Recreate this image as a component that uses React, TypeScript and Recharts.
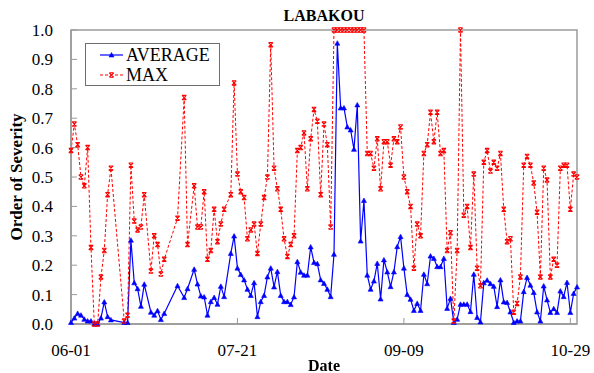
import React from "react"
import { LineChart, Line, XAxis, YAxis, ReferenceArea } from "recharts"

// day index counted from 06-01 (some days have no reading)
const days = [
  0, 1, 2, 3, 4, 5, 6, 7, 8, 9, 10, 11, 12,
  16, 17, 18, 19, 20, 21, 22,
  24, 25, 26, 27, 28,
  32, 34, 35,
  37, 38, 39, 40, 41, 42, 43, 44, 45, 46,
  48, 49, 50, 51, 52, 53, 54, 55, 56, 57, 58, 59, 60, 61, 62, 63, 64, 65, 66, 67, 68, 69, 70, 71, 72, 73, 74, 75, 76, 77, 78, 79,
  80, 81, 82, 83, 84, 85, 86, 87, 88, 89, 90, 91, 92, 93, 94, 95, 96, 97, 98, 99, 100,
  101, 102, 103, 104, 105, 106, 107, 108, 109, 110, 111, 112, 113, 114, 115, 116, 117, 118, 119, 120, 121, 122, 123, 124, 125, 126, 127,
  128, 129, 130, 131, 132, 133, 134, 135, 136, 137, 138, 139, 140, 141, 142, 143, 144, 145, 146, 147, 148, 149, 150, 151, 152,
]

const averageValues = [
  0.005, 0.02, 0.036, 0.03, 0.016, 0.01, 0.01, 0, 0, 0.02, 0.075, 0.025, 0.014,
  0.005, 0.005, 0.285, 0.14, 0.12, 0.06, 0.135,
  0.04, 0.03, 0.045, 0.015, 0.036,
  0.13, 0.09, 0.12,
  0.186, 0.136, 0.095, 0.092, 0.03, 0.076, 0.09, 0.067, 0.128, 0.093,
  0.24, 0.299, 0.19, 0.168, 0.15, 0.118, 0.097, 0.14, 0.025, 0.076, 0.097, 0.16, 0.19, 0.126, 0.178, 0.097, 0.076, 0.076, 0.066, 0.092, 0.212, 0.176, 0.166, 0.166, 0.262, 0.209, 0.205, 0.15, 0.138, 0.118, 0.093, 0.237,
  0.955, 0.735, 0.735, 0.67, 0.66, 0.594, 0.745, 0.282, 0.42, 0.166, 0.118, 0.146, 0.206, 0.085, 0.218, 0.177, 0.127, 0.177, 0.263, 0.297, 0.19,
  0.1, 0.084, 0.046, 0.07, 0.046, 0.169, 0.137, 0.231, 0.223, 0.195, 0.195, 0.223, 0.053, 0.087, 0.005, 0.016, 0.067, 0.067, 0.067, 0.042, 0.169, 0.022, 0.007, 0.14, 0.149, 0.137, 0.128,
  0.059, 0.15, 0.075, 0.073, 0.041, 0.005, 0.01, 0.01, 0.11, 0.158, 0.132, 0.107, 0.041, 0.01, 0.129, 0.082, 0.039, 0.052, 0.039, 0.112, 0.093, 0.141, 0.039, 0.104, 0.126,
]

const maxValues = [
  0.59, 0.68, 0.61, 0.5, 0.47, 0.6, 0.26, 0, 0, 0.16, 0.25, 0.44, 0.53,
  0.01, 0.03, 0.54, 0.35, 0.32, 0.33, 0.44,
  0.18, 0.3, 0.27, 0.17, 0.22,
  0.36, 0.77, 0.27,
  0.47, 0.33, 0.33, 0.45, 0.22, 0.25, 0.39, 0.28, 0.34, 0.39,
  0.44, 0.82, 0.51, 0.45, 0.43, 0.29, 0.32, 0.34, 0.24, 0.34, 0.43, 0.5, 0.95, 0.53, 0.46, 0.39, 0.29, 0.23, 0.27, 0.3, 0.59, 0.6, 0.65, 0.46, 0.63, 0.73, 0.69, 0.44, 0.68, 0.61, 0.33, 1,
  1, 1, 1, 1, 1, 1, 1, 1, 1, 0.58, 0.58, 0.53, 0.63, 0.46, 0.62, 0.62, 0.54, 0.63, 0.62, 0.67, 0.5,
  0.45, 0.4, 0.19, 0.34, 0.3, 0.58, 0.61, 0.72, 0.62, 0.72, 0.58, 0.59, 0.25, 0.31, 0.01, 0.25, 1, 0.37, 0.4, 0.26, 0.51, 0.19, 0.13, 0.55, 0.59, 0.52, 0.55,
  0.53, 0.58, 0.39, 0.28, 0.29, 0.04, 0.07, 0.16, 0.54, 0.57, 0.54, 0.48, 0.38, 0.16, 0.53, 0.49, 0.16, 0.22, 0.2, 0.53, 0.54, 0.54, 0.39, 0.51, 0.5,
]

const dateTicks = [0, 50, 100, 150]
const dateLabels = ["06-01", "07-21", "09-09", "10-29"]
const severityTicks = [0, 0.1, 0.2, 0.3, 0.4, 0.5, 0.6, 0.7, 0.8, 0.9, 1.0]

const BLUE = "#0000ff"
const RED = "#ff0000"
const FRAME = "#9a9a9a"
const FONT = "Liberation Serif"

const data = days.map((day, i) => ({
  day,
  average: averageValues[i],
  max: maxValues[i],
}))

const TriangleDot = (props: any) => {
  const { cx, cy, index } = props
  if (cx == null || cy == null) return <g key={index} />
  return (
    <polygon
      key={index}
      points={`${cx - 2.5},${cy + 2} ${cx + 2.5},${cy + 2} ${cx},${cy - 2.5}`}
      fill={BLUE}
      stroke={BLUE}
      strokeWidth={0.6}
    />
  )
}

const CrossDot = (props: any) => {
  const { cx, cy, index } = props
  if (cx == null || cy == null) return <g key={index} />
  return (
    <path
      key={index}
      d={`M${cx - 2.2},${cy - 2.2}L${cx + 2.2},${cy + 2.2}M${cx + 2.2},${cy - 2.2}L${cx - 2.2},${cy + 2.2}M${cx - 2.2},${cy - 2.2}L${cx + 2.2},${cy - 2.2}M${cx - 2.2},${cy + 2.2}L${cx + 2.2},${cy + 2.2}`}
      stroke={RED}
      strokeWidth={1.1}
      fill="none"
    />
  )
}

const LegendBox = () => (
  <div
    style={{
      position: "absolute",
      left: 85,
      top: 43,
      width: 135,
      height: 43,
      boxSizing: "border-box",
      border: "1px solid #6e6e6e",
      background: "#fff",
      fontSize: 18,
      color: "#000",
    }}
  >
    <div style={{ display: "flex", alignItems: "center", height: 20, marginTop: 1 }}>
      <svg width={40} height={20}>
        <line x1={14} y1={10} x2={37} y2={10} stroke={BLUE} strokeWidth={1.2} />
        <TriangleDot cx={25.5} cy={10} index="a" />
      </svg>
      <span>AVERAGE</span>
    </div>
    <div style={{ display: "flex", alignItems: "center", height: 20 }}>
      <svg width={40} height={20}>
        <line x1={14} y1={10} x2={37} y2={10} stroke={RED} strokeWidth={1} strokeDasharray="3 2" />
        <CrossDot cx={25.5} cy={10} index="b" />
      </svg>
      <span>MAX</span>
    </div>
  </div>
)

export default function App() {
  return (
    <div style={{ position: "fixed", left: 0, top: 0, width: 594, height: 373, background: "#fff", fontFamily: FONT }}>
      <div
        style={{
          position: "absolute", left: 224, top: 6, width: 200, textAlign: "center",
          fontWeight: "bold", fontSize: 16, lineHeight: "20px",
        }}
      >
        LABAKOU
      </div>
      <LineChart
        width={594}
        height={373}
        data={data}
        margin={{ top: 30, right: 17, bottom: 0, left: 0 }}
      >
        <XAxis
          dataKey="day"
          type="number"
          domain={[0, 152]}
          ticks={dateTicks}
          tickFormatter={(v: number) => dateLabels[dateTicks.indexOf(v)]}
          height={49}
          tickSize={-6}
          tickMargin={26}
          axisLine={{ stroke: FRAME, strokeWidth: 1.5 }}
          tickLine={{ stroke: FRAME }}
          tick={{ fill: "#000", fontSize: 17, fontFamily: FONT }}
          interval={0}
        />
        <YAxis
          type="number"
          domain={[0, 1]}
          ticks={severityTicks}
          tickFormatter={(v: number) => v.toFixed(1)}
          width={71}
          tickSize={-6}
          tickMargin={24}
          axisLine={{ stroke: FRAME, strokeWidth: 1.5 }}
          tickLine={{ stroke: FRAME }}
          tick={{ fill: "#000", fontSize: 17, fontFamily: FONT }}
          interval={0}
        />
        <ReferenceArea x1={0} x2={152} y1={0} y2={1} fill="none" stroke={FRAME} strokeWidth={1.5} />
        <Line
          type="linear"
          dataKey="average"
          name="AVERAGE"
          stroke={BLUE}
          strokeWidth={1.2}
          dot={TriangleDot}
          activeDot={false}
          isAnimationActive={false}
        />
        <Line
          type="linear"
          dataKey="max"
          name="MAX"
          stroke={RED}
          strokeWidth={1}
          strokeDasharray="3 2"
          dot={CrossDot}
          activeDot={false}
          isAnimationActive={false}
        />
      </LineChart>
      <LegendBox />
      <div
        style={{
          position: "absolute", left: 17, top: 177, transform: "translate(-50%, -50%) rotate(-90deg)",
          whiteSpace: "nowrap", fontWeight: "bold", fontSize: 17,
        }}
      >
        Order of Severity
      </div>
      <div
        style={{
          position: "absolute", left: 324, top: 366, transform: "translate(-50%, -50%)",
          fontWeight: "bold", fontSize: 16,
        }}
      >
        Date
      </div>
    </div>
  )
}
